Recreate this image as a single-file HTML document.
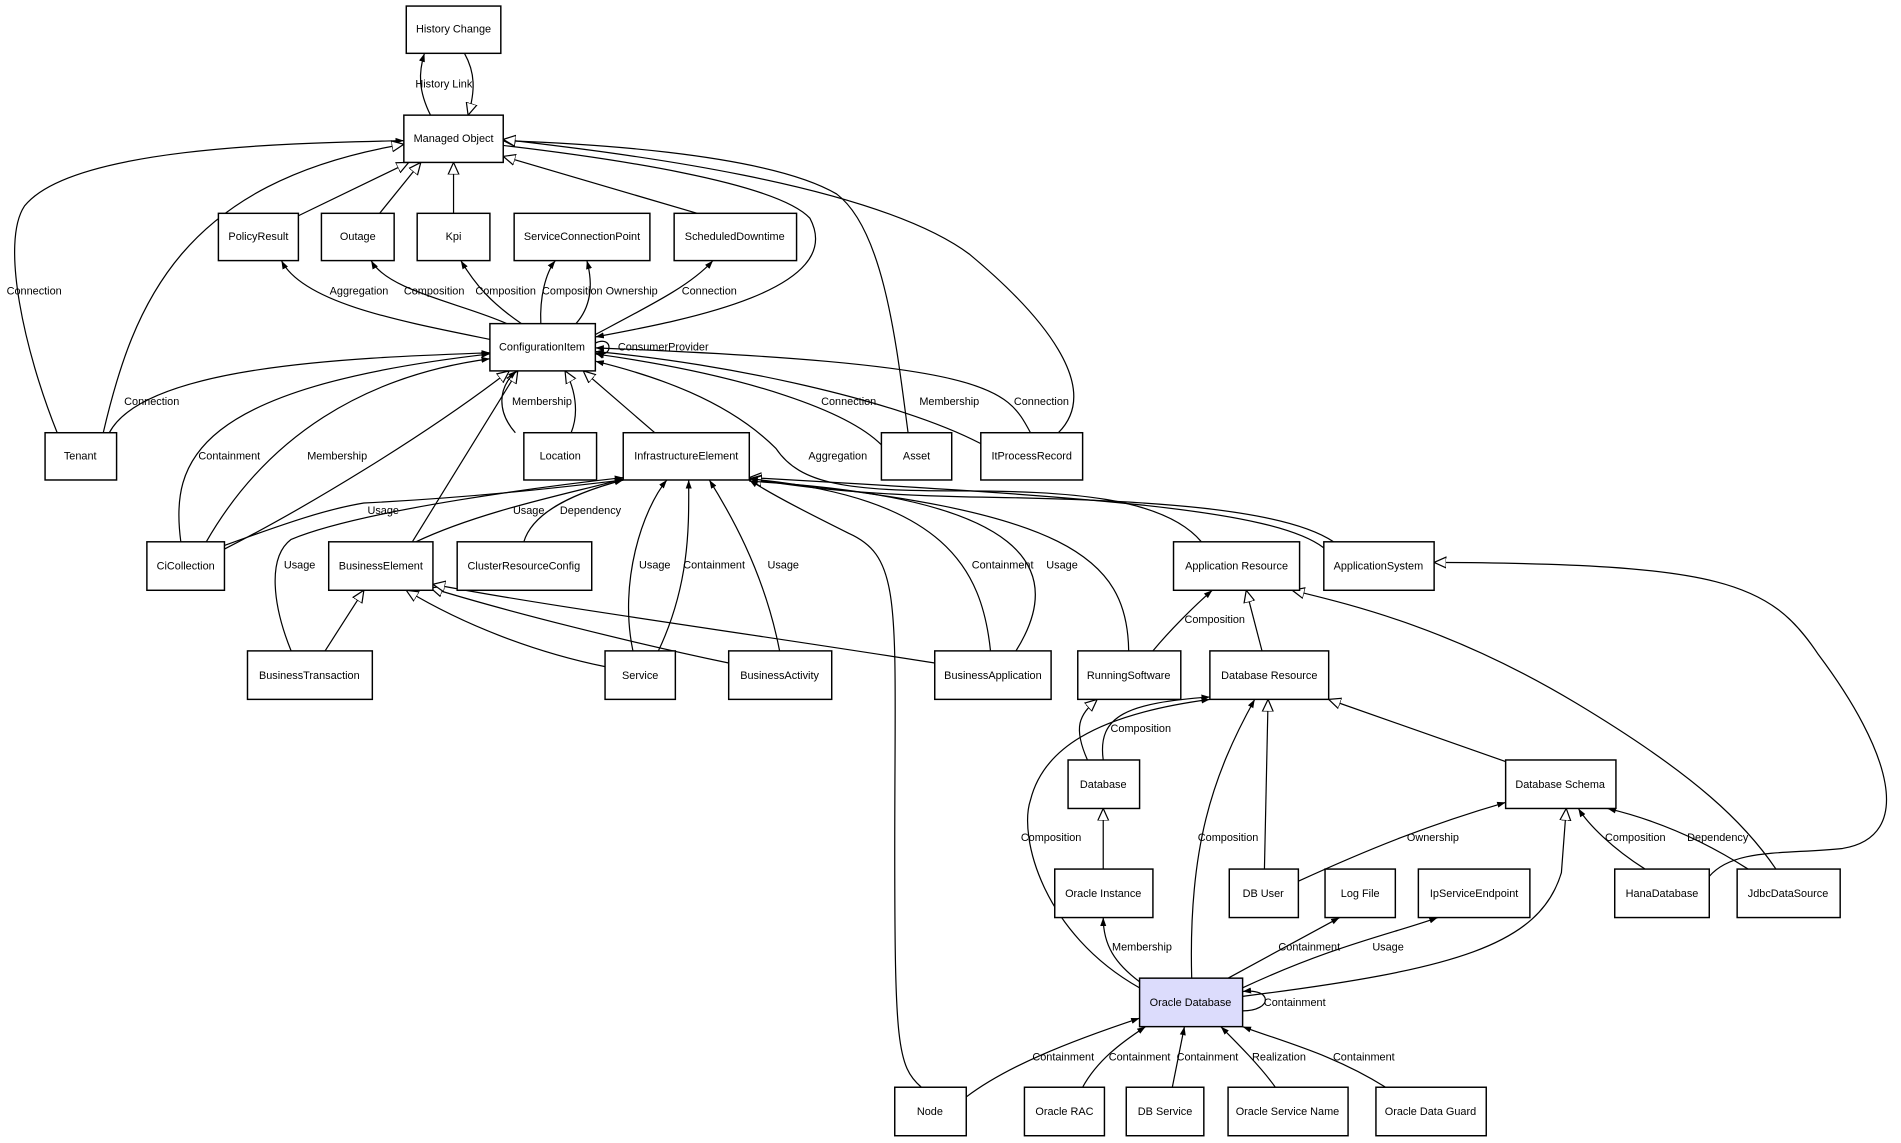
<!DOCTYPE html>
<html><head><meta charset="utf-8"><style>
html,body{margin:0;padding:0;background:#fff;width:1901px;height:1143px;overflow:hidden}
svg{display:block}
text{font-family:"Liberation Sans",sans-serif;font-size:9px;fill:#000}
.b{fill:#fff;stroke:#000;stroke-width:1.2}
.e{fill:none;stroke:#000;stroke-width:1}
</style></head><body>
<svg width="1901" height="1143" viewBox="0 0 1568 943" xmlns="http://www.w3.org/2000/svg">
<defs>
<marker id="f" markerWidth="8" markerHeight="6" refX="7" refY="3" orient="auto" markerUnits="userSpaceOnUse"><path d="M0,0.5 L7,3 L0,5.5 z" fill="#000"/></marker>
<marker id="h" markerWidth="12" markerHeight="11" refX="10" refY="5" orient="auto" markerUnits="userSpaceOnUse"><path d="M0,0.5 L10,5 L0,9.5 z" fill="#fff" stroke="#000" stroke-width="1"/></marker>
</defs>
<g class="e">
<path d="M355,95 C345,75 345,60 350,44" marker-end="url(#f)"/>
<path d="M383,44 C392,60 392,75 386,95" marker-end="url(#h)"/>
<path d="M47,357 C20,290 0,200 20,170 C60,120 250,118 333,116" marker-end="url(#f)"/>
<path d="M85,357 C110,250 150,150 333,119" marker-end="url(#h)"/>
<path d="M90,357 C120,300 300,295 404,291" marker-end="url(#f)"/>
<path d="M246,178 L337,134" marker-end="url(#h)"/>
<path d="M313,176 L347,134" marker-end="url(#h)"/>
<path d="M374,176 L374,134" marker-end="url(#h)"/>
<path d="M575,176 L415,129" marker-end="url(#h)"/>
<path d="M404,280 C330,265 250,250 232,215" marker-end="url(#f)"/>
<path d="M418,267 C380,250 320,240 306,215" marker-end="url(#f)"/>
<path d="M430,267 C405,250 392,235 380,215" marker-end="url(#f)"/>
<path d="M446,267 C445,245 450,225 458,215" marker-end="url(#f)"/>
<path d="M475,267 C490,250 488,230 484,215" marker-end="url(#f)"/>
<path d="M491,276 C540,250 570,235 588,215" marker-end="url(#f)"/>
<path d="M415,120 C500,130 640,150 668,180 C700,240 560,265 491,278" marker-end="url(#f)"/>
<path d="M749,357 C740,290 730,190 690,160 C630,125 470,118 415,116" marker-end="url(#h)"/>
<path d="M873,357 C910,320 860,260 800,210 C720,150 500,125 415,115" marker-end="url(#h)"/>
<path d="M491,283 C506,276 506,297 491,291" marker-end="url(#f)"/>
<path d="M727,367 C700,340 620,310 491,292" marker-end="url(#f)"/>
<path d="M809,366 C740,330 600,300 491,290" marker-end="url(#f)"/>
<path d="M850,357 C830,320 820,300 491,287" marker-end="url(#f)"/>
<path d="M149,447 C140,380 160,320 404,292" marker-end="url(#f)"/>
<path d="M170,447 C220,360 300,310 404,296" marker-end="url(#f)"/>
<path d="M185,453 C250,420 350,360 420,306" marker-end="url(#h)"/>
<path d="M340,447 L427,306" marker-end="url(#h)"/>
<path d="M425,357 C410,340 410,320 426,306" marker-end="url(#f)"/>
<path d="M471,357 C478,340 474,320 466,306" marker-end="url(#h)"/>
<path d="M540,357 L481,306" marker-end="url(#h)"/>
<path d="M991,447 C960,410 880,405 790,405 C700,405 660,400 640,370 C600,330 540,310 491,298" marker-end="url(#f)"/>
<path d="M1092,452 C1050,420 900,410 618,394" marker-end="url(#h)"/>
<path d="M1100,447 C1060,420 950,412 800,410 C700,408 650,400 618,395" marker-end="url(#h)"/>
<path d="M931,537 C930,460 880,420 618,396" marker-end="url(#h)"/>
<path d="M817,537 C810,470 780,410 618,395" marker-end="url(#f)"/>
<path d="M838,537 C880,470 850,410 618,397" marker-end="url(#f)"/>
<path d="M185,450 C240,430 270,420 300,415 C400,410 480,400 514,396" marker-end="url(#f)"/>
<path d="M343,447 C400,420 480,405 514,395" marker-end="url(#f)"/>
<path d="M432,447 C440,420 480,405 514,396" marker-end="url(#f)"/>
<path d="M240,537 C225,500 220,460 240,445 C300,420 460,400 514,394" marker-end="url(#f)"/>
<path d="M522,537 C510,480 530,420 550,396" marker-end="url(#f)"/>
<path d="M543,537 C570,480 568,430 568,396" marker-end="url(#f)"/>
<path d="M643,537 C630,470 600,420 585,396" marker-end="url(#f)"/>
<path d="M760,897 C740,880 738,860 738,700 C738,500 745,460 700,440 C670,425 640,410 618,396" marker-end="url(#f)"/>
<path d="M268,537 L300,487" marker-end="url(#h)"/>
<path d="M499,550 C450,540 390,520 335,487" marker-end="url(#h)"/>
<path d="M601,547 C520,530 420,505 355,485" marker-end="url(#h)"/>
<path d="M771,547 C600,520 450,500 357,482" marker-end="url(#h)"/>
<path d="M951,537 C965,520 985,500 1000,487" marker-end="url(#f)"/>
<path d="M1041,537 L1028,487" marker-end="url(#h)"/>
<path d="M1465,717 C1440,680 1400,640 1300,580 C1200,520 1120,500 1066,487" marker-end="url(#h)"/>
<path d="M1410,723 C1430,700 1470,705 1520,700 C1580,690 1560,620 1500,540 C1460,480 1420,465 1183,464" marker-end="url(#h)"/>
<path d="M897,627 C885,600 890,590 905,577" marker-end="url(#h)"/>
<path d="M910,627 C905,590 930,580 998,575" marker-end="url(#f)"/>
<path d="M940,815 C860,770 840,690 850,660 C860,620 900,590 998,577" marker-end="url(#f)"/>
<path d="M983,807 C980,700 1000,640 1035,577" marker-end="url(#f)"/>
<path d="M1043,717 L1046,577" marker-end="url(#h)"/>
<path d="M1244,629 L1096,577" marker-end="url(#h)"/>
<path d="M910,717 L910,667" marker-end="url(#h)"/>
<path d="M1071,727 C1130,700 1180,680 1242,662" marker-end="url(#f)"/>
<path d="M1357,717 C1330,700 1310,680 1302,667" marker-end="url(#f)"/>
<path d="M1442,717 C1400,690 1360,675 1326,667" marker-end="url(#f)"/>
<path d="M940,810 C920,795 910,780 910,757" marker-end="url(#f)"/>
<path d="M1013,807 L1105,757" marker-end="url(#f)"/>
<path d="M1025,815 C1100,780 1150,770 1186,757" marker-end="url(#f)"/>
<path d="M1025,822 C1200,800 1270,780 1288,720 L1292,667" marker-end="url(#h)"/>
<path d="M1025,834 C1050,834 1050,815 1025,818" marker-end="url(#f)"/>
<path d="M797,905 C830,880 880,860 940,840" marker-end="url(#f)"/>
<path d="M893,897 C905,875 925,860 945,847" marker-end="url(#f)"/>
<path d="M967,897 L977,847" marker-end="url(#f)"/>
<path d="M1052,897 C1040,880 1020,860 1007,847" marker-end="url(#f)"/>
<path d="M1143,897 C1100,870 1060,860 1025,847" marker-end="url(#f)"/>
</g>
<g class="b">
<rect x="335" y="5" width="78" height="39"/>
<rect x="333" y="95" width="82" height="39"/>
<rect x="180" y="176" width="66" height="39"/>
<rect x="265" y="176" width="60" height="39"/>
<rect x="344" y="176" width="60" height="39"/>
<rect x="424" y="176" width="112" height="39"/>
<rect x="556" y="176" width="101" height="39"/>
<rect x="404" y="267" width="87" height="39"/>
<rect x="37" y="357" width="59" height="39"/>
<rect x="432" y="357" width="60" height="39"/>
<rect x="514" y="357" width="104" height="39"/>
<rect x="727" y="357" width="58" height="39"/>
<rect x="809" y="357" width="84" height="39"/>
<rect x="121" y="447" width="64" height="40"/>
<rect x="271" y="447" width="86" height="40"/>
<rect x="377" y="447" width="111" height="40"/>
<rect x="968" y="447" width="104" height="40"/>
<rect x="1092" y="447" width="91" height="40"/>
<rect x="204" y="537" width="103" height="40"/>
<rect x="499" y="537" width="58" height="40"/>
<rect x="601" y="537" width="85" height="40"/>
<rect x="771" y="537" width="96" height="40"/>
<rect x="889" y="537" width="85" height="40"/>
<rect x="998" y="537" width="98" height="40"/>
<rect x="881" y="627" width="59" height="40"/>
<rect x="1242" y="627" width="91" height="40"/>
<rect x="870" y="717" width="81" height="40"/>
<rect x="1014" y="717" width="57" height="40"/>
<rect x="1093" y="717" width="58" height="40"/>
<rect x="1170" y="717" width="92" height="40"/>
<rect x="1332" y="717" width="78" height="40"/>
<rect x="1433" y="717" width="85" height="40"/>
<rect x="940" y="807" width="85" height="40" style="fill:#dcdcfc"/>
<rect x="738" y="897" width="59" height="40"/>
<rect x="845" y="897" width="66" height="40"/>
<rect x="929" y="897" width="64" height="40"/>
<rect x="1013" y="897" width="99" height="40"/>
<rect x="1135" y="897" width="91" height="40"/>
</g>
<g text-anchor="middle">
<text x="374" y="27">History Change</text>
<text x="374" y="117">Managed Object</text>
<text x="213" y="198">PolicyResult</text>
<text x="295" y="198">Outage</text>
<text x="374" y="198">Kpi</text>
<text x="480" y="198">ServiceConnectionPoint</text>
<text x="606" y="198">ScheduledDowntime</text>
<text x="447" y="289">ConfigurationItem</text>
<text x="66" y="379">Tenant</text>
<text x="462" y="379">Location</text>
<text x="566" y="379">InfrastructureElement</text>
<text x="756" y="379">Asset</text>
<text x="851" y="379">ItProcessRecord</text>
<text x="153" y="470">CiCollection</text>
<text x="314" y="470">BusinessElement</text>
<text x="432" y="470">ClusterResourceConfig</text>
<text x="1020" y="470">Application Resource</text>
<text x="1137" y="470">ApplicationSystem</text>
<text x="255" y="560">BusinessTransaction</text>
<text x="528" y="560">Service</text>
<text x="643" y="560">BusinessActivity</text>
<text x="819" y="560">BusinessApplication</text>
<text x="931" y="560">RunningSoftware</text>
<text x="1047" y="560">Database Resource</text>
<text x="910" y="650">Database</text>
<text x="1287" y="650">Database Schema</text>
<text x="910" y="740">Oracle Instance</text>
<text x="1042" y="740">DB User</text>
<text x="1122" y="740">Log File</text>
<text x="1216" y="740">IpServiceEndpoint</text>
<text x="1371" y="740">HanaDatabase</text>
<text x="1475" y="740">JdbcDataSource</text>
<text x="982" y="830">Oracle Database</text>
<text x="767" y="920">Node</text>
<text x="878" y="920">Oracle RAC</text>
<text x="961" y="920">DB Service</text>
<text x="1062" y="920">Oracle Service Name</text>
<text x="1180" y="920">Oracle Data Guard</text>
<text x="366" y="72">History Link</text>
<text x="28" y="243">Connection</text>
<text x="296" y="243">Aggregation</text>
<text x="358" y="243">Composition</text>
<text x="417" y="243">Composition</text>
<text x="472" y="243">Composition</text>
<text x="521" y="243">Ownership</text>
<text x="585" y="243">Connection</text>
<text x="547" y="289">ConsumerProvider</text>
<text x="125" y="334">Connection</text>
<text x="447" y="334">Membership</text>
<text x="700" y="334">Connection</text>
<text x="783" y="334">Membership</text>
<text x="859" y="334">Connection</text>
<text x="189" y="379">Containment</text>
<text x="278" y="379">Membership</text>
<text x="691" y="379">Aggregation</text>
<text x="316" y="424">Usage</text>
<text x="436" y="424">Usage</text>
<text x="487" y="424">Dependency</text>
<text x="247" y="469">Usage</text>
<text x="540" y="469">Usage</text>
<text x="589" y="469">Containment</text>
<text x="646" y="469">Usage</text>
<text x="827" y="469">Containment</text>
<text x="876" y="469">Usage</text>
<text x="1002" y="514">Composition</text>
<text x="941" y="604">Composition</text>
<text x="867" y="694">Composition</text>
<text x="1013" y="694">Composition</text>
<text x="1182" y="694">Ownership</text>
<text x="1349" y="694">Composition</text>
<text x="1417" y="694">Dependency</text>
<text x="942" y="784">Membership</text>
<text x="1080" y="784">Containment</text>
<text x="1145" y="784">Usage</text>
<text x="1068" y="830">Containment</text>
<text x="877" y="875">Containment</text>
<text x="940" y="875">Containment</text>
<text x="996" y="875">Containment</text>
<text x="1055" y="875">Realization</text>
<text x="1125" y="875">Containment</text>
</g>
</svg>
</body></html>
